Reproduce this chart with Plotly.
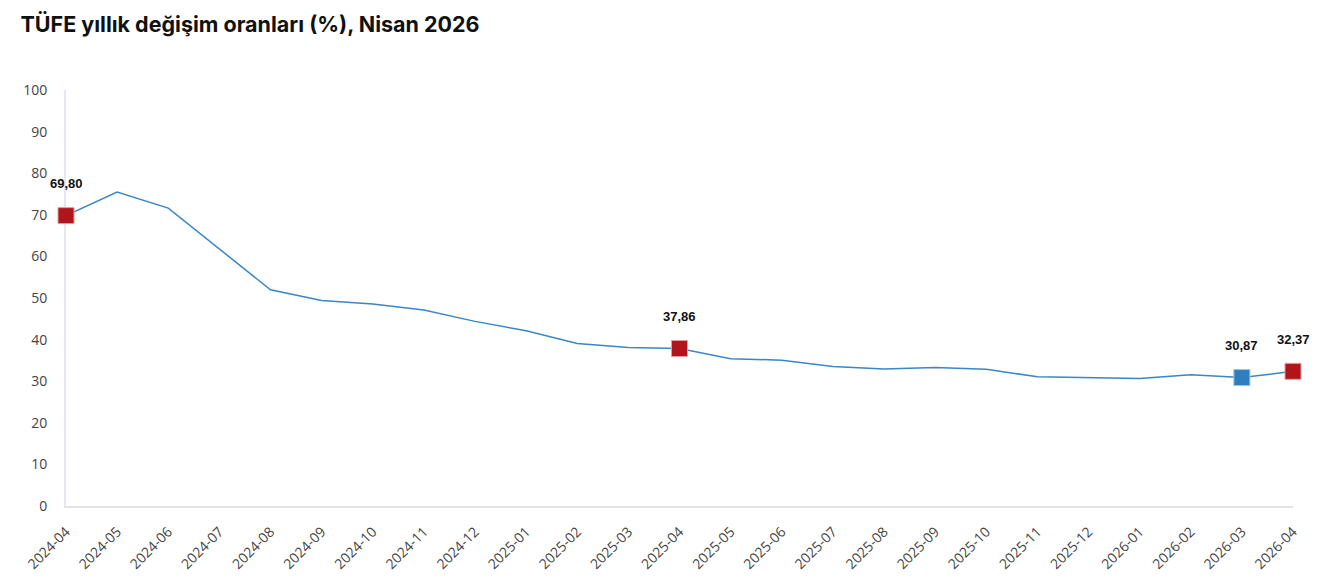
import plotly.graph_objects as go

months = [
    "2024-04", "2024-05", "2024-06", "2024-07", "2024-08", "2024-09",
    "2024-10", "2024-11", "2024-12", "2025-01", "2025-02", "2025-03",
    "2025-04", "2025-05", "2025-06", "2025-07", "2025-08", "2025-09",
    "2025-10", "2025-11", "2025-12", "2026-01", "2026-02", "2026-03",
    "2026-04",
]
tufe = [
    69.80, 75.45, 71.60, 61.78, 51.97, 49.38,
    48.58, 47.09, 44.38, 42.12, 39.05, 38.10,
    37.86, 35.41, 35.05, 33.52, 32.95, 33.29,
    32.87, 31.07, 30.89, 30.65, 31.53, 30.87,
    32.37,
]

# highlighted months: yearly comparison points (red) and previous month (blue)
red_months = ["2024-04", "2025-04", "2026-04"]
blue_months = ["2026-03"]

val = dict(zip(months, tufe))

fig = go.Figure()
fig.add_trace(go.Scatter(
    x=months, y=tufe, mode="lines",
    line=dict(color="#3a86c6", width=1.5),
    hoverinfo="x+y", showlegend=False, cliponaxis=False,
))
fig.add_trace(go.Scatter(
    x=red_months, y=[val[m] for m in red_months], mode="markers",
    marker=dict(symbol="square", size=16, color="#b0151c",
                line=dict(color="#e89a9e", width=1)),
    showlegend=False, cliponaxis=False,
))
fig.add_trace(go.Scatter(
    x=blue_months, y=[val[m] for m in blue_months], mode="markers",
    marker=dict(symbol="square", size=16, color="#2f7fc0",
                line=dict(color="#9cc3e4", width=1)),
    showlegend=False, cliponaxis=False,
))

for m in red_months + blue_months:
    fig.add_annotation(
        x=m, y=val[m], text="<b>" + f"{val[m]:.2f}".replace(".", ",") + "</b>",
        showarrow=False, yshift=32, xanchor="center",
        font=dict(family="Liberation Sans", size=13, color="#111"),
    )

# the page body adds 8px of margin, so the figure is 8px smaller
fig.update_layout(
    title=dict(
        text="<b>TÜFE yıllık değişim oranları (%), Nisan 2026</b>",
        x=0.0095, xanchor="left", yref="container", y=0.985, yanchor="top",
        font=dict(family="Inter", size=21.5, color="#111"),
    ),
    width=1311, height=577,
    paper_bgcolor="#ffffff", plot_bgcolor="#ffffff",
    margin=dict(l=58, r=26, t=82, b=70),
    font=dict(family="Open Sans", color="#444"),
    xaxis=dict(
        type="category", range=[0, len(months) - 1],
        tickangle=-45, tickfont=dict(size=14, color="#444"),
        showgrid=False, showline=True, linecolor="#e3e3e3", linewidth=2,
        ticks="", ticklabelstandoff=10, zeroline=False, layer="below traces",
    ),
    yaxis=dict(
        range=[0, 100], dtick=10, tickfont=dict(size=14, color="#444"),
        showgrid=False, showline=True, linecolor="#e4e8f0", linewidth=2,
        ticks="", ticklabelstandoff=14, zeroline=False, layer="below traces",
    ),
)

fig.write_html("out.html")
